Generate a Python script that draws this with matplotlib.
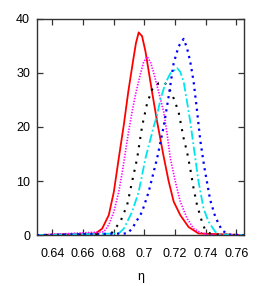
import matplotlib
matplotlib.use("Agg")
import matplotlib.pyplot as plt
from matplotlib import font_manager

# curves (eta, density)
red_x = [0.630, 0.6682, 0.6725, 0.6768, 0.6801, 0.6833, 0.6866, 0.6895, 0.6925, 0.6945,
         0.6963, 0.6985, 0.7007, 0.7030, 0.7050, 0.7083, 0.7126, 0.7158, 0.7191, 0.7234,
         0.7288, 0.7353, 0.765]
red_y = [0, 0.3, 1.2, 3.7, 8.0, 14.2, 20.4, 26.5, 32.0, 35.5,
         37.5, 36.8, 34.0, 30.0, 26.5, 21.0, 14.5, 10.0, 6.2, 3.7,
         1.5, 0.3, 0]

mag_x = [0.630, 0.6736, 0.6768, 0.6801, 0.6833, 0.6855, 0.6877, 0.6898, 0.6920, 0.6942,
         0.6974, 0.6995, 0.7018, 0.7040, 0.7061, 0.7093, 0.7126, 0.7148, 0.7169, 0.7202,
         0.7234, 0.7278, 0.7321, 0.7364, 0.7408, 0.765]
mag_y = [0, 0.6, 1.9, 4.3, 8.0, 11.5, 15.5, 19.3, 22.8, 26.0,
         29.8, 32.0, 33.0, 32.0, 30.0, 26.5, 22.8, 18.8, 14.2, 9.9,
         6.2, 3.1, 1.2, 0.5, 0.1, 0]

blk_x = [0.630, 0.6779, 0.6801, 0.6844, 0.6888, 0.6920, 0.6953, 0.6985, 0.7018, 0.7050,
         0.7093, 0.7126, 0.7154, 0.7191, 0.7223, 0.7256, 0.7278, 0.7299, 0.7321, 0.7343,
         0.7375, 0.7397, 0.7429, 0.7462, 0.765]
blk_y = [0, 0.1, 0.9, 2.5, 5.6, 9.9, 14.2, 20.1, 24.4, 26.9,
         28.1, 28.3, 27.6, 25.3, 22.8, 17.9, 15.4, 12.3, 8.6, 5.6,
         2.5, 0.9, 0.3, 0.1, 0]

cyan_x = [0.630, 0.6833, 0.6866, 0.6920, 0.6963, 0.7007, 0.7061, 0.7083, 0.7104, 0.7137,
          0.7169, 0.7213, 0.7234, 0.7256, 0.7278, 0.7299, 0.7332, 0.7353, 0.7386, 0.7418,
          0.7462, 0.7494, 0.765]
cyan_y = [0, 0.3, 1.2, 4.3, 8.0, 14.2, 20.1, 22.2, 25.0, 28.1,
          29.9, 30.9, 30.2, 28.4, 24.7, 21.0, 14.2, 9.9, 4.9, 2.5,
          0.6, 0.1, 0]

blue_x = [0.630, 0.6888, 0.6920, 0.6985, 0.7028, 0.7083, 0.7126, 0.7158, 0.7191, 0.7223,
          0.7256, 0.7278, 0.7299, 0.7321, 0.7343, 0.7364, 0.7390, 0.7429, 0.7462, 0.7505,
          0.7548, 0.765]
blue_y = [0, 0.3, 1.2, 4.3, 8.0, 14.2, 20.1, 25.6, 31.8, 34.9,
          36.3, 34.6, 32.1, 28.4, 23.1, 17.6, 12.7, 6.5, 3.4, 0.9,
          0.1, 0]

x_ticks = [0.64, 0.66, 0.68, 0.70, 0.72, 0.74, 0.76]
x_labels = ["0.64", "0.66", "0.68", "0.7", "0.72", "0.74", "0.76"]
y_ticks = [0, 10, 20, 30, 40]

# narrow sans if available, otherwise regular Liberation Sans
names = {f.name for f in font_manager.fontManager.ttflist}
base = "Liberation Sans Narrow" if "Liberation Sans Narrow" in names else "Liberation Sans"
plt.rcParams["font.family"] = [base, "DejaVu Sans"]
tick_size = 10 if base == "Liberation Sans Narrow" else 9

fig = plt.figure(figsize=(2.70, 2.86), dpi=100)
ax = fig.add_axes([0.137, 0.178, 0.767, 0.756])

ax.plot(red_x, red_y, color="#ff0000", lw=1.3, ls="-")
ax.plot(mag_x, mag_y, color="#ff00ff", lw=1.2, ls=(0, (0.8, 0.9)))
ax.plot(blk_x, blk_y, color="black", lw=1.5, ls=(0, (1, 3)))
ax.plot(cyan_x, cyan_y, color="#00e5ee", lw=1.3, ls=(0, (5, 1.5, 1, 1.5)))
ax.plot(blue_x, blue_y, color="#0000ff", lw=1.6, ls=(0, (1, 2)))

ax.set_xlim(0.63, 0.765)
ax.set_ylim(0, 40)
ax.set_xticks(x_ticks)
ax.set_xticklabels(x_labels)
ax.set_yticks(y_ticks)
ax.tick_params(direction="in", top=True, right=True, length=4, width=0.9,
               labelsize=tick_size, colors="#333333", labelcolor="black")
ax.tick_params(axis="x", pad=9)
ax.tick_params(axis="y", pad=5)
for s in ax.spines.values():
    s.set_linewidth(1.0)
    s.set_color("#333333")
ax.set_xlabel("η", fontsize=tick_size, labelpad=8)

fig.savefig("out.png", dpi=100)
